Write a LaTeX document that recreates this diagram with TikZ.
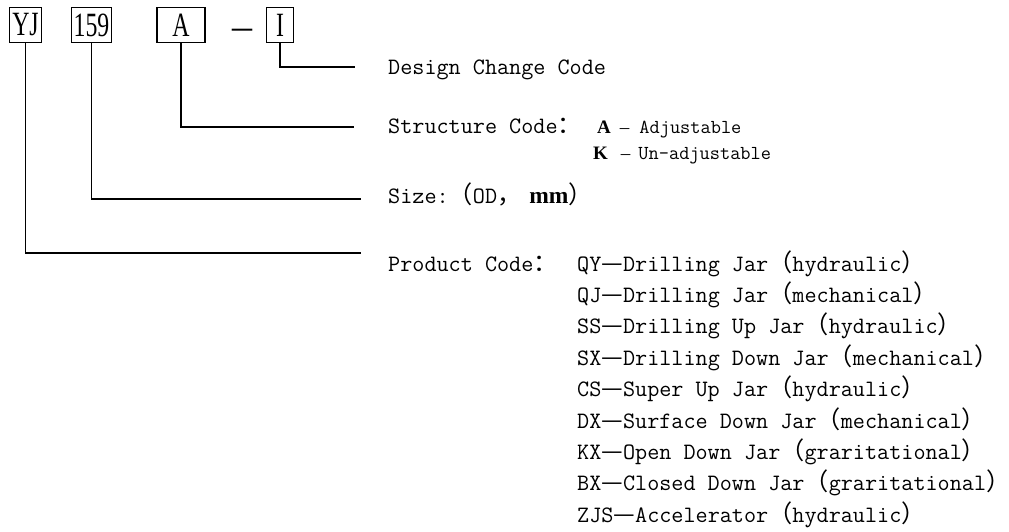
\documentclass[tikz,border=0pt]{standalone}
\usepackage{fontspec}
\newfontfamily\serfont{Liberation Serif}
\newfontfamily\boxfont[FakeStretch=0.7]{Liberation Serif}
\newfontfamily\cjkfont{Noto Sans CJK SC}
\newcommand{\fw}[1]{{\cjkfont\fontsize{24.2pt}{24pt}\selectfont #1}}

\begin{document}
\begin{tikzpicture}[x=1pt, y=-1pt,
    codebox/.style={draw, line width=1.5pt, inner sep=0pt, minimum height=35pt,
      font=\boxfont\fontsize{34pt}{34pt}\selectfont},
    leader/.style={line width=1.8pt},
    lab/.style={anchor=base west, inner sep=0pt,
      font=\ttfamily\fontsize{23.5pt}{24pt}\selectfont},
    sub/.style={anchor=base west, inner sep=0pt}]
  \useasboundingbox (0,0) rectangle (1009,531);

  % 型号方框
  \node[codebox, minimum width=32pt] (yj) at (25.5,25) {YJ};
  \node[codebox, minimum width=40pt] (od) at (91.5,25) {159};
  \node[codebox, minimum width=48pt] (struct) at (181,25) {A};
  \node[codebox, minimum width=27pt] (design) at (280,25) {I};
  \node[anchor=base, inner sep=0pt, font=\serfont\fontsize{40pt}{40pt}\selectfont] (dash) at (242,39) {–};

  % 引线
  \coordinate (designend) at (355,66.7);
  \coordinate (structend) at (354,127.3);
  \coordinate (odend) at (360.5,199.3);
  \coordinate (yjend) at (360.5,252.7);
  \draw[leader] (design.south) |- (designend);
  \draw[leader] (struct.south) |- (structend);
  \draw[leader] (od.south) |- (odend);
  \draw[leader] (yj.south) |- (yjend);

  % 说明文字
  \node[lab] (designlab) at (388,74) {Design Change Code};
  \node[lab] (structlab) at (388,133) {Structure Code\fw{：}};
  \node[sub] (adj) at (597,133) {{\serfont\fontsize{19pt}{19pt}\selectfont\textbf{A}\hspace{9pt}–\hspace{10pt}}{\ttfamily\fontsize{19.8pt}{20pt}\selectfont Adjustable}};
  \node[sub] (unadj) at (593,159) {{\serfont\fontsize{19pt}{19pt}\selectfont\textbf{K}\hspace{13pt}–\hspace{8pt}}{\ttfamily\fontsize{19.8pt}{20pt}\selectfont Un-adjustable}};
  \node[lab] (odlab) at (388,203) {Size:\fw{（}OD\fw{，}\hspace{8pt}{\serfont\bfseries mm}\fw{）}};
  \node[lab] (prodlab) at (388,271) {Product Code\fw{：}};

  % 产品代号
  \node[lab] (qy) at (577,271) {QY\fw{—}Drilling Jar\fw{（}hydraulic\fw{）}};
  \node[lab] (qj) at (577,302.4) {QJ\fw{—}Drilling Jar\fw{（}mechanical\fw{）}};
  \node[lab] (ss) at (577,333.8) {SS\fw{—}Drilling Up Jar\fw{（}hydraulic\fw{）}};
  \node[lab] (sx) at (577,365.2) {SX\fw{—}Drilling Down Jar\fw{（}mechanical\fw{）}};
  \node[lab] (cs) at (577,396.6) {CS\fw{—}Super Up Jar\fw{（}hydraulic\fw{）}};
  \node[lab] (dx) at (577,428) {DX\fw{—}Surface Down Jar\fw{（}mechanical\fw{）}};
  \node[lab] (kx) at (577,459.4) {KX\fw{—}Open Down Jar\fw{（}graritational\fw{）}};
  \node[lab] (bx) at (577,490.8) {BX\fw{—}Closed Down Jar\fw{（}graritational\fw{）}};
  \node[lab] (zjs) at (577,522.2) {ZJS\fw{—}Accelerator\fw{（}hydraulic\fw{）}};
\end{tikzpicture}
\end{document}
